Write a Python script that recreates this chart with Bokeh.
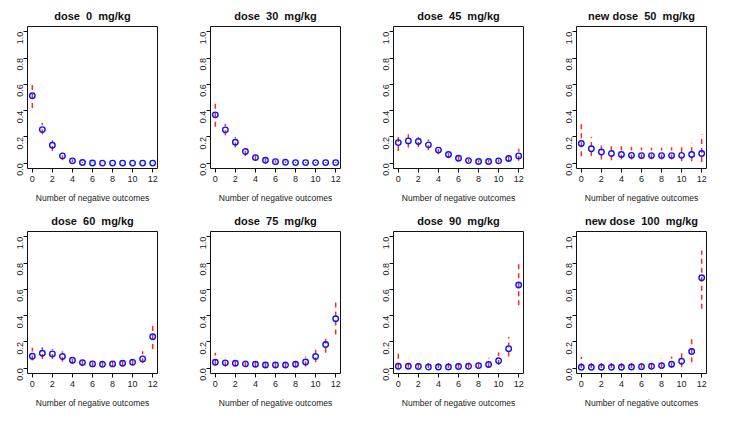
import math
from bokeh.plotting import figure
from bokeh.layouts import gridplot
from bokeh.models import FixedTicker, CustomJSTickFormatter, ColumnDataSource
from bokeh.embed import file_html
from bokeh.resources import INLINE

outcomes = list(range(13))
titles = ["dose  0  mg/kg", "dose  30  mg/kg", "dose  45  mg/kg", "new dose  50  mg/kg",
          "dose  60  mg/kg", "dose  75  mg/kg", "dose  90  mg/kg", "new dose  100  mg/kg"]

mean_d0 = [0.513, 0.256, 0.137, 0.056, 0.018, 0.006, 0.002, 0.001, 0.001, 0.001, 0.001, 0.001, 0.001]
lo_d0 = [0.42, 0.22, 0.094, 0.023, 0.008, 0.002, 0.0, 0.0, 0.0, 0.0, 0.0, 0.0, 0.0]
hi_d0 = [0.61, 0.307, 0.175, 0.086, 0.03, 0.012, 0.006, 0.003, 0.002, 0.002, 0.002, 0.002, 0.002]

mean_d30 = [0.368, 0.254, 0.16, 0.089, 0.043, 0.023, 0.012, 0.008, 0.005, 0.005, 0.005, 0.005, 0.005]
lo_d30 = [0.277, 0.213, 0.12, 0.056, 0.023, 0.01, 0.004, 0.002, 0.001, 0.001, 0.001, 0.001, 0.001]
hi_d30 = [0.46, 0.30, 0.20, 0.124, 0.069, 0.038, 0.022, 0.015, 0.01, 0.01, 0.01, 0.01, 0.01]

mean_d45 = [0.157, 0.17, 0.165, 0.14, 0.10, 0.066, 0.038, 0.02, 0.013, 0.013, 0.018, 0.036, 0.056]
lo_d45 = [0.094, 0.12, 0.124, 0.099, 0.069, 0.038, 0.02, 0.01, 0.005, 0.005, 0.008, 0.015, 0.018]
hi_d45 = [0.226, 0.22, 0.20, 0.18, 0.13, 0.094, 0.06, 0.035, 0.025, 0.025, 0.03, 0.069, 0.11]

mean_d50 = [0.15, 0.11, 0.086, 0.074, 0.066, 0.06, 0.058, 0.058, 0.058, 0.058, 0.06, 0.066, 0.074]
lo_d50 = [0.053, 0.056, 0.028, 0.023, 0.028, 0.028, 0.03, 0.03, 0.028, 0.028, 0.015, 0.015, 0.01]
hi_d50 = [0.31, 0.20, 0.162, 0.142, 0.13, 0.124, 0.12, 0.118, 0.118, 0.122, 0.132, 0.155, 0.218]

mean_d60 = [0.091, 0.114, 0.109, 0.089, 0.061, 0.043, 0.033, 0.03, 0.033, 0.038, 0.046, 0.071, 0.239]
lo_d60 = [0.058, 0.071, 0.071, 0.05, 0.033, 0.025, 0.015, 0.013, 0.015, 0.018, 0.023, 0.038, 0.147]
hi_d60 = [0.155, 0.16, 0.147, 0.13, 0.091, 0.066, 0.05, 0.05, 0.056, 0.063, 0.074, 0.13, 0.343]

mean_d75 = [0.046, 0.041, 0.038, 0.033, 0.03, 0.025, 0.025, 0.025, 0.03, 0.048, 0.089, 0.18, 0.376]
lo_d75 = [0.028, 0.013, 0.015, 0.013, 0.01, 0.008, 0.008, 0.008, 0.01, 0.013, 0.046, 0.117, 0.256]
hi_d75 = [0.117, 0.084, 0.07, 0.063, 0.058, 0.056, 0.056, 0.058, 0.066, 0.089, 0.14, 0.249, 0.51]

mean_d90 = [0.015, 0.015, 0.013, 0.01, 0.01, 0.01, 0.013, 0.015, 0.02, 0.028, 0.057, 0.149, 0.633]
lo_d90 = [0.003, 0.003, 0.002, 0.002, 0.002, 0.002, 0.002, 0.003, 0.005, 0.005, 0.025, 0.09, 0.48]
hi_d90 = [0.11, 0.075, 0.065, 0.05, 0.045, 0.045, 0.048, 0.055, 0.065, 0.08, 0.12, 0.237, 0.795]

mean_d100 = [0.007, 0.007, 0.007, 0.008, 0.008, 0.01, 0.012, 0.015, 0.02, 0.03, 0.053, 0.127, 0.688]
lo_d100 = [0.002, 0.001, 0.001, 0.001, 0.001, 0.001, 0.002, 0.002, 0.003, 0.003, 0.008, 0.046, 0.452]
hi_d100 = [0.085, 0.06, 0.055, 0.055, 0.055, 0.055, 0.057, 0.065, 0.075, 0.09, 0.13, 0.23, 0.896]

means = [mean_d0, mean_d30, mean_d45, mean_d50, mean_d60, mean_d75, mean_d90, mean_d100]
lows = [lo_d0, lo_d30, lo_d45, lo_d50, lo_d60, lo_d75, lo_d90, lo_d100]
highs = [hi_d0, hi_d30, hi_d45, hi_d50, hi_d60, hi_d75, hi_d90, hi_d100]

x_ticks = [0, 2, 4, 6, 8, 10, 12]
y_ticks = [0.0, 0.2, 0.4, 0.6, 0.8, 1.0]

FONT = "Liberation Sans"
figs = []
for t, m, lo, hi in zip(titles, means, lows, highs):
    p = figure(width=183, height=205, output_backend="svg", toolbar_location=None,
               x_range=(-0.48, 12.48), y_range=(-0.04, 1.04),
               min_border_left=27, min_border_right=26, min_border_top=26, min_border_bottom=37,
               title=t.replace("  ", "\u00a0 "))
    p.title.align = "center"
    p.title.text_font = FONT
    p.title.text_font_size = "11px"
    p.title.text_font_style = "bold"
    p.title.text_color = "#111111"
    p.grid.visible = False
    p.outline_line_color = "#111111"
    p.outline_line_width = 1
    p.background_fill_color = "white"
    src = ColumnDataSource(dict(x=outcomes, m=m, lo=lo, hi=hi))
    p.segment(x0="x", y0="lo", x1="x", y1="hi", source=src, line_color="#ff2a1a",
              line_width=1.5, line_dash="5 4")
    p.scatter(x="x", y="m", source=src, marker="circle", size=5.5, line_color="#0a14ff",
              fill_color=None, line_width=1.4)

    xa = p.xaxis[0]
    xa.ticker = FixedTicker(ticks=x_ticks)
    xa.bounds = (0, 12)
    xa.axis_label = "Number of negative outcomes"
    xa.axis_label_text_font = FONT
    xa.axis_label_text_font_size = "8.5px"
    xa.axis_label_text_font_style = "normal"
    xa.axis_label_text_color = "#222222"
    xa.axis_label_standoff = 8
    ya = p.yaxis[0]
    ya.ticker = FixedTicker(ticks=y_ticks)
    ya.bounds = (0, 1)
    ya.formatter = CustomJSTickFormatter(code="return tick.toFixed(1);")
    ya.major_label_orientation = math.pi / 2
    for ax in (xa, ya):
        ax.minor_tick_line_color = None
        ax.major_tick_in = 0
        ax.major_tick_out = 4
        ax.axis_line_color = "#111111"
        ax.major_tick_line_color = "#111111"
        ax.major_label_text_font = FONT
        ax.major_label_text_font_size = "9px"
        ax.major_label_text_color = "#222222"
        ax.major_label_standoff = 3
    figs.append(p)

grid = gridplot(figs, ncols=4, toolbar_location=None)
open("out.html", "w").write(file_html(grid, INLINE))
